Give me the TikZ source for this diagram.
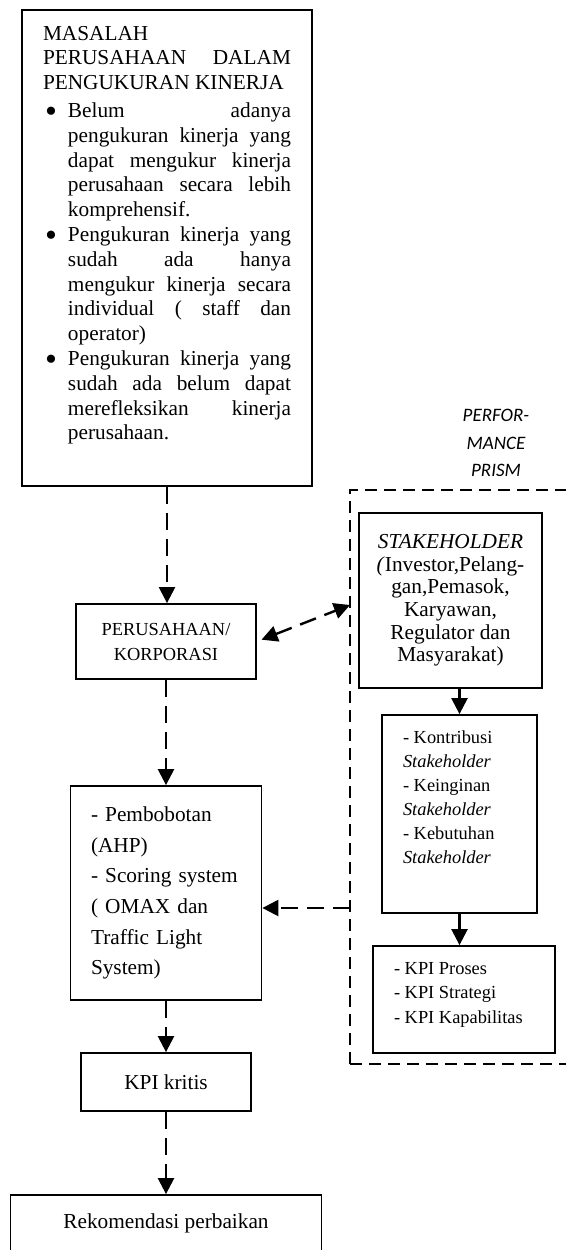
\documentclass[tikz,border=0pt]{standalone}
\usepackage{fontspec}
\setmainfont{Liberation Serif}
\newfontfamily\prismfont{Carlito}
\usepackage{graphicx}
\usepackage{tikz}
\usetikzlibrary{arrows.meta, positioning}

\newcommand{\jline}[1]{\makebox[\linewidth][s]{#1}\\}
\newcommand{\bigdot}{\raisebox{-0.22em}{\scalebox{1.6}{\textbullet}}}
\newenvironment{problist}{\list{\bigdot}{\setlength{\leftmargin}{12.5pt}\setlength{\labelwidth}{7pt}\setlength{\labelsep}{5.5pt}\setlength{\itemsep}{0pt}\setlength{\parsep}{0pt}\setlength{\topsep}{0pt}\setlength{\partopsep}{0pt}}}{\endlist}

\begin{document}
\begin{tikzpicture}[x=0.5pt, y=-0.5pt]
\tikzstyle{box} = [rectangle, draw, line width=0.9pt, inner sep=0pt, font=\fontsize{10.65}{12.4}\selectfont]
\tikzstyle{frame} = [draw, line width=1.1pt, dash pattern=on 6pt off 3.5pt]
\tikzstyle{arrow} = [line width=1.2pt, -{Triangle[width=8pt,length=8pt]}]
\tikzstyle{dasharrow} = [arrow, dash pattern=on 8.5pt off 4.5pt]

\useasboundingbox (0,0) rectangle (566,1250);

% left column
\node (masalah) [box, inner xsep=10.5pt, inner ysep=8pt] at (167,248) {\parbox[c][222pt][t]{124pt}{MASALAH\\
\jline{PERUSAHAAN DALAM}PENGUKURAN KINERJA\par\vspace{1.5pt}
\begin{problist}
\item \jline{Belum adanya}\jline{pengukuran kinerja yang}\jline{dapat mengukur kinerja}\jline{perusahaan secara lebih}komprehensif.
\item \jline{Pengukuran kinerja yang}\jline{sudah ada hanya}\jline{mengukur kinerja secara}\jline{individual ( staff dan}operator)
\item \jline{Pengukuran kinerja yang}\jline{sudah ada belum dapat}\jline{merefleksikan kinerja}perusahaan.
\end{problist}}};
\node (perusahaan) [box, minimum width=90pt, minimum height=37.5pt, align=center, font=\fontsize{9.2}{12.5}\selectfont] at (166,641.5) {PERUSAHAAN/\\KORPORASI};
\node (pembobot) [box, minimum width=95.5pt, minimum height=107pt, text width=75pt, align=left, font=\fontsize{10.65}{15.3}\selectfont] at (166,893) {- Pembobotan\\(AHP)\\- Scoring system\\( OMAX dan\\Traffic Light\\System)};
\node (kritis) [box, minimum width=85pt, minimum height=29pt] at (166,1082) {KPI kritis};
\node (rekom) [box, minimum width=155.5pt, minimum height=28pt] at (166,1223) {Rekomendasi perbaikan};

% performance prism
\node (prism) [frame, minimum width=115pt, minimum height=287pt] at (465,777) {};
\node (prismlabel) [align=center, font=\prismfont\itshape\fontsize{9.5}{13.75}\selectfont] at (496,443) {PERFOR-\\MANCE\\PRISM};
\node (stake) [box, minimum width=91.5pt, minimum height=87.5pt, align=center, font=\fontsize{10.65}{11.3}\selectfont] at (450.5,600.5) {\textit{STAKEHOLDER}\\\textit{(}Investor,Pelang-\\gan,Pemasok,\\Karyawan,\\Regulator dan\\Masyarakat)};
\node (kontrib) [box, inner xsep=10.5pt, inner ysep=7.7pt, font=\fontsize{9.2}{12}\selectfont] at (459.5,814) {\parbox[c][83.6pt][t]{56.5pt}{\raggedright - Kontribusi\\\textit{Stakeholder}\\- Keinginan\\\textit{Stakeholder}\\- Kebutuhan\\\textit{Stakeholder}}};
\node (kpi) [box, inner xsep=10.5pt, inner ysep=8pt, font=\fontsize{9.2}{12.25}\selectfont] at (464,999.5) {\parbox[c][37.5pt][t]{70pt}{\raggedright - KPI Proses\\- KPI Strategi\\- KPI Kapabilitas}};

\coordinate (toprism) at (350,605);
\coordinate (fromprism) at (350,908);

\draw [dasharrow] (masalah.south) -- (masalah.south |- perusahaan.north);
\draw [dasharrow] (perusahaan) -- (pembobot);
\draw [dasharrow] (pembobot) -- (kritis);
\draw [dasharrow] (kritis) -- (rekom);
\draw [dasharrow, {Triangle[width=8pt,length=8pt]}-{Triangle[width=8pt,length=8pt]}, shorten <=2.5pt] (perusahaan.east) -- (toprism);
\draw [dasharrow] (fromprism) -- (fromprism -| pembobot.east);
\draw [arrow] (kontrib.north |- stake.south) -- (kontrib.north);
\draw [arrow] (kontrib.south) -- (kontrib.south |- kpi.north);

\end{tikzpicture}
\end{document}
